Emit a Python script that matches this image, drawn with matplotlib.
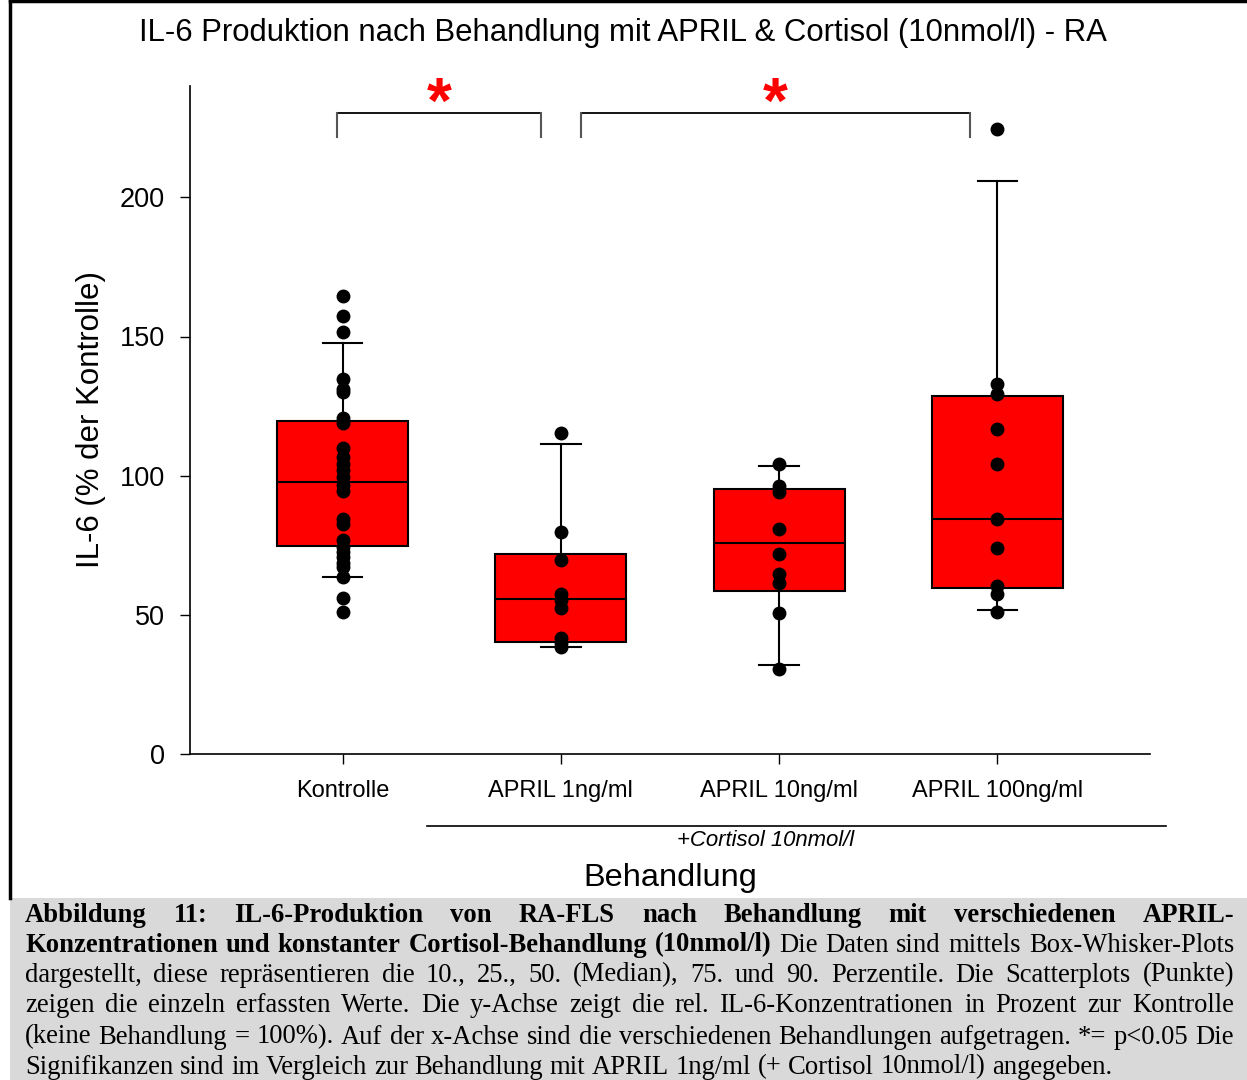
import matplotlib
matplotlib.use("Agg")
import matplotlib.pyplot as plt
from matplotlib.lines import Line2D
from matplotlib.patches import Rectangle

# --- data ---
categories = ["Kontrolle", "APRIL 1ng/ml", "APRIL 10ng/ml", "APRIL 100ng/ml"]

# box-whisker: 10., 25., 50., 75., 90. percentile
p10 = [63.6, 38.4, 32.0, 51.9]
p25 = [74.7, 40.3, 58.5, 59.8]
p50 = [97.7, 55.8, 75.9, 84.3]
p75 = [119.6, 72.0, 95.2, 128.6]
p90 = [147.6, 111.3, 103.4, 205.7]

kontrolle_pts = [164.5, 157.4, 151.6, 134.6, 131.2, 130.0, 120.6, 118.9,
                 109.8, 106.6, 104.2, 102.2, 99.4, 96.5, 94.6, 84.3, 82.8,
                 76.8, 74.4, 72.6, 70.8, 68.5, 67.2, 63.7, 56.0, 51.1]
april1_pts = [115.2, 79.9, 69.7, 57.5, 55.5, 52.3, 41.5, 39.8, 38.6]
april10_pts = [104.3, 96.2, 94.2, 80.8, 72.0, 64.8, 61.6, 50.7, 30.5]
april100_pts = [224.4, 133.1, 129.3, 116.7, 104.1, 84.6, 74.0, 60.4, 57.4, 51.0]

# significance brackets (x from, x to, y top)
brackets = [(0.976, 1.908, 230.2), (2.092, 3.876, 230.2)]

caption_lines = [
    [("Abbildung 11: IL-6-Produktion von RA-FLS nach Behandlung mit verschiedenen APRIL-", "bold")],
    [("Konzentrationen und konstanter Cortisol-Behandlung (10nmol/l)", "bold"),
     ("Die Daten sind mittels Box-Whisker-Plots", "normal")],
    [("dargestellt, diese repräsentieren die 10., 25., 50. (Median), 75. und 90. Perzentile. Die Scatterplots (Punkte)", "normal")],
    [("zeigen die einzeln erfassten Werte. Die y-Achse zeigt die rel. IL-6-Konzentrationen in Prozent zur Kontrolle", "normal")],
    [("(keine Behandlung = 100%). Auf der x-Achse sind die verschiedenen Behandlungen aufgetragen. *= p<0.05 Die", "normal")],
    [("Signifikanzen sind im Vergleich zur Behandlung mit APRIL 1ng/ml (+ Cortisol 10nmol/l) angegeben.", "normal")],
]

plt.rcParams['font.family'] = ['Liberation Sans', 'DejaVu Sans']

W, H = 1247, 1080
fig = plt.figure(figsize=(W / 100, H / 100), dpi=100)
ax = fig.add_axes([190 / W, 1 - 754 / H, 960 / W, 668 / H])

positions = [1, 2, 3, 4]
stats = []
for i in range(4):
    stats.append(dict(med=p50[i], q1=p25[i], q3=p75[i],
                      whislo=p10[i], whishi=p90[i], fliers=[]))
ax.bxp(stats, positions=positions, widths=0.6, capwidths=0.18,
       patch_artist=True, showfliers=False,
       boxprops=dict(facecolor="#ff0000", edgecolor="black", linewidth=1.5),
       medianprops=dict(color="black", linewidth=1.5),
       whiskerprops=dict(color="black", linewidth=1.5),
       capprops=dict(color="black", linewidth=1.5))

for pos, pts in zip(positions, [kontrolle_pts, april1_pts, april10_pts, april100_pts]):
    ax.plot([pos] * len(pts), pts, "o", color="black", ms=9, zorder=5, clip_on=False)

ax.set_xlim(0.3, 4.7)
ax.set_ylim(0, 240)
ax.set_yticks([0, 50, 100, 150, 200])
ax.set_xticks(positions)
ax.set_xticklabels(categories, fontsize=17)
ax.tick_params(axis="y", labelsize=19.5, length=7, width=1, direction="out", pad=11)
ax.tick_params(axis="x", length=7, width=1, direction="out", pad=12)
for s in ["top", "right"]:
    ax.spines[s].set_visible(False)
for s in ["left", "bottom"]:
    ax.spines[s].set_linewidth(1.2)

ax.set_ylabel("IL-6 (% der Kontrolle)", fontsize=22.5)
ax.yaxis.set_label_coords(-0.088, 0.5)

# significance brackets
for x0, x1, y in brackets:
    ax.plot([x0, x1], [y, y], color="black", lw=1.3, clip_on=False)
    ax.plot([x0, x0], [y, y - 8.6], color="#555555", lw=1.5, clip_on=False)
    ax.plot([x1, x1], [y, y - 8.6], color="#555555", lw=1.5, clip_on=False)
    ax.text((x0 + x1) / 2, 226.9, "*", color="#ff0000", fontsize=46,
            fontweight="bold", ha="center", va="baseline", clip_on=False)

# titles / labels
fig.text(623 / W, 1 - 33 / H, "IL-6 Produktion nach Behandlung mit APRIL & Cortisol (10nmol/l) - RA",
         fontsize=22.4, ha="center", va="center")
fig.add_artist(Line2D([427 / W, 1166 / W], [1 - 826 / H, 1 - 826 / H], color="black", lw=1.2))
fig.text(766 / W, 1 - 840 / H, "+Cortisol 10nmol/l", fontsize=15.9, style="italic",
         ha="center", va="center")
fig.text(670 / W, 1 - 878 / H, "Behandlung", fontsize=23.4, ha="center", va="center")

# frame + caption box
fig.add_artist(Line2D([10 / W, 10 / W], [1 - 898 / H, 1], color="black", lw=2.5))
fig.add_artist(Line2D([10 / W, 1], [1 - 1 / H, 1 - 1 / H], color="black", lw=2.5))
fig.add_artist(Rectangle((10 / W, 0), 1 - 10 / W, 182 / H, transform=fig.transFigure,
                         facecolor="#d9d9d9", edgecolor="none", zorder=0))

# justified caption
cap_fs = 19.2
serif = "Liberation Serif"
fig.canvas.draw()
renderer = fig.canvas.get_renderer()


def word_width(word, weight):
    t = fig.text(0, 0, word, fontsize=cap_fs, family=serif, weight=weight)
    w = t.get_window_extent(renderer).width
    t.remove()
    return w


left_px, right_px = 25, 1234
space_w = word_width("a b", "normal") - word_width("ab", "normal")
line_y = [915, 945, 975, 1006, 1037, 1067]
for li, parts in enumerate(caption_lines):
    words = []
    for txt, weight in parts:
        words += [(w, weight) for w in txt.split(" ")]
    widths = [word_width(w, wt) for w, wt in words]
    if li < len(caption_lines) - 1:
        gap = (right_px - left_px - sum(widths)) / (len(words) - 1)
    else:
        gap = space_w
    x = left_px
    for (w, wt), ww in zip(words, widths):
        fig.text(x / W, 1 - line_y[li] / H, w, fontsize=cap_fs, family=serif,
                 weight=wt, ha="left", va="center")
        x += ww + gap

fig.savefig("out.png", dpi=100)
